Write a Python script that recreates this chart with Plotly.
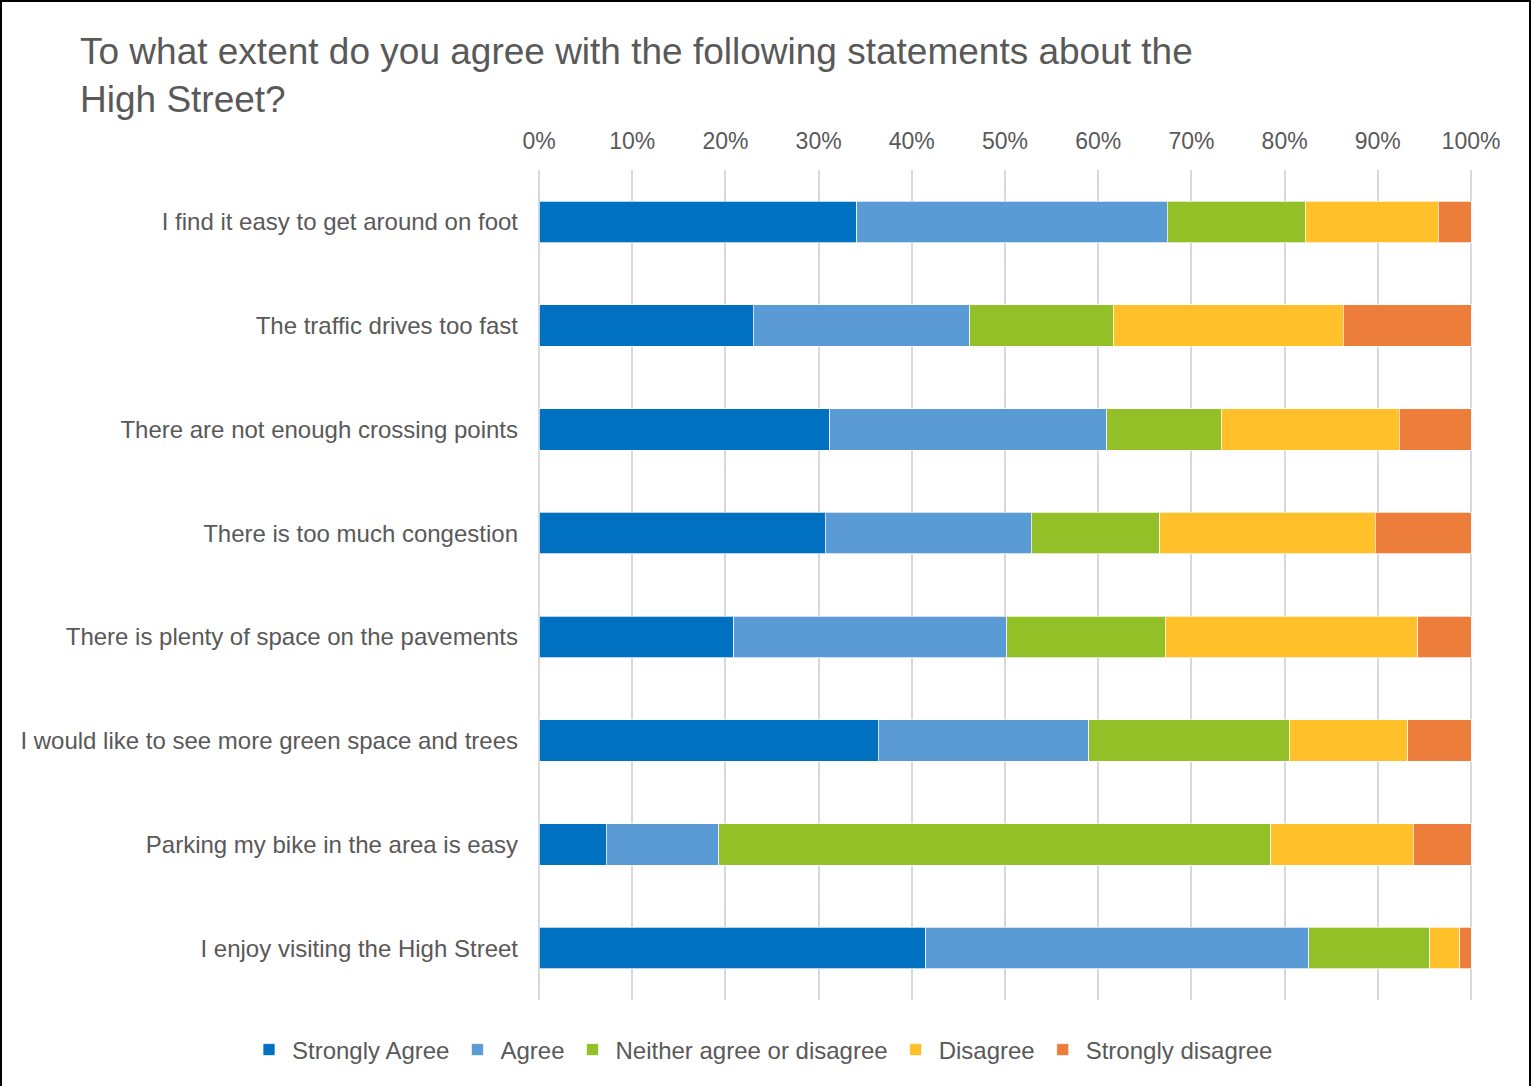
import plotly.graph_objects as go

# Survey statements (top to bottom)
statements = [
    "I find it easy to get around on foot",
    "The traffic drives too fast",
    "There are not enough crossing points",
    "There is too much congestion",
    "There is plenty of space on the pavements",
    "I would like to see more green space and trees",
    "Parking my bike in the area is easy",
    "I enjoy visiting the High Street",
]

# Share of responses (%) per answer, in the same order as statements
strongly_agree = [34.1, 23.0, 31.2, 30.7, 20.9, 36.4, 7.2, 41.5]
agree = [33.3, 23.2, 29.7, 22.1, 29.3, 22.6, 12.1, 41.1]
neither = [14.8, 15.4, 12.3, 13.8, 17.0, 21.5, 59.2, 13.0]
disagree = [14.3, 24.7, 19.1, 23.1, 27.1, 12.7, 15.3, 3.2]
strongly_disagree = [3.5, 13.7, 7.7, 10.3, 5.7, 6.8, 6.2, 1.2]

tick_values = [0, 10, 20, 30, 40, 50, 60, 70, 80, 90, 100]
tick_labels = ["0%", "10%", "20%", "30%", "40%", "50%", "60%", "70%", "80%", "90%", "100%"]

series = [
    ("Strongly Agree", strongly_agree, "#0070C0"),
    ("Agree", agree, "#5B9BD5"),
    ("Neither agree or disagree", neither, "#92C026"),
    ("Disagree", disagree, "#FFC02A"),
    ("Strongly disagree", strongly_disagree, "#ED7D3B"),
]

FONT = "Liberation Sans, Arial, sans-serif"
GREY = "#595959"

fig = go.Figure()
for name, values, color in series:
    fig.add_trace(go.Bar(
        name=name,
        x=values,
        y=statements,
        orientation="h",
        marker=dict(color=color, line=dict(color="rgba(255,255,255,0.7)", width=1)),
        hovertemplate="%{y}<br>" + name + ": %{x:.1f}%<extra></extra>",
    ))

W, H = 1532, 1086
ML, MR, MT, MB = 537, 59, 170, 86
PW, PH = W - ML - MR, H - MT - MB
# a little slack on both ends so the 0% and 100% gridlines are drawn
PAD = 2 * 100 / (PW - 4)

fig.update_layout(
    width=W,
    height=H,
    barmode="stack",
    bargap=0.6,
    paper_bgcolor="white",
    plot_bgcolor="white",
    margin=dict(l=ML, r=MR, t=MT, b=MB, pad=0, autoexpand=False),
    font=dict(family=FONT, size=24, color=GREY),
    title=dict(
        text="To what extent do you agree with the following statements about the<br>High Street?",
        x=80 / W,
        xanchor="left",
        xref="container",
        y=1 - 64 / H,
        yanchor="top",
        yref="container",
        font=dict(family=FONT, size=37, color=GREY),
    ),
    xaxis=dict(
        side="top",
        range=[-PAD, 100 + PAD],
        tickvals=tick_values,
        ticktext=tick_labels,
        showgrid=True,
        gridcolor="#D9D9D9",
        gridwidth=2,
        zeroline=False,
        showline=False,
        ticks="",
        ticklabelstandoff=15,
        tickfont=dict(family=FONT, size=23, color=GREY),
        fixedrange=True,
    ),
    yaxis=dict(
        autorange="reversed",
        showgrid=False,
        zeroline=False,
        showline=False,
        ticks="",
        ticklabelstandoff=18,
        tickfont=dict(family=FONT, size=24, color=GREY),
        fixedrange=True,
    ),
    legend=dict(
        orientation="h",
        xref="paper",
        yref="paper",
        x=(246 - ML) / PW,
        xanchor="left",
        y=-(1050 - MT - PH) / PH,
        yanchor="middle",
        font=dict(family=FONT, size=24, color=GREY),
        itemwidth=36,
        traceorder="normal",
    ),
    shapes=[
        # outer frame around the whole chart
        dict(
            type="rect",
            xref="paper",
            yref="paper",
            x0=(1 - ML) / PW,
            x1=(W - 2 - ML) / PW,
            y0=-(H + 10 - MT - PH) / PH,
            y1=1 + (MT - 1) / PH,
            line=dict(color="black", width=2),
            fillcolor="rgba(0,0,0,0)",
            layer="above",
        )
    ],
)

fig.write_html("out.html")
